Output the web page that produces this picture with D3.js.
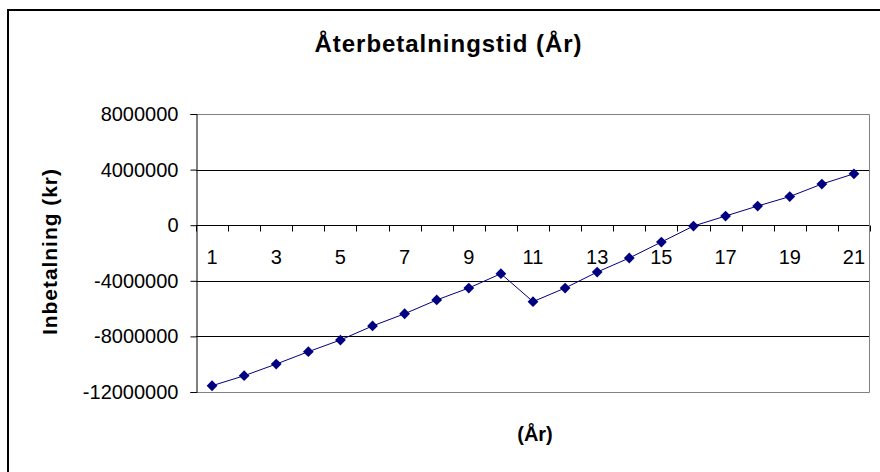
<!DOCTYPE html>
<html>
<head>
<meta charset="utf-8">
<script src="https://cdn.jsdelivr.net/npm/d3@7"></script>
<style>
body { margin: 0; background: #fff; }
svg { display: block; font-family: "Liberation Sans", Arial, sans-serif; }
</style>
</head>
<body>
<svg id="chart" width="880" height="472"></svg>
<script>
const years = [1,2,3,4,5,6,7,8,9,10,11,12,13,14,15,16,17,18,19,20,21];
const payments = [-11550000,-10830000,-9990000,-9100000,-8260000,-7250000,-6370000,-5380000,-4520000,-3490000,-5500000,-4520000,-3370000,-2360000,-1210000,-60000,660000,1380000,2060000,2960000,3700000];
const yTicks = [8000000,4000000,0,-4000000,-8000000,-12000000];
const xLabels = [1,3,5,7,9,11,13,15,17,19,21];
const title = "Återbetalningstid (År)";
const xTitle = "(År)";
const yTitle = "Inbetalning (kr)";

const svg = d3.select("#chart");
const L = 196, R = 870, T = 114, B = 392;

// outer frame
svg.append("rect").attr("x", 8).attr("y", 10).attr("width", 900).attr("height", 500)
  .attr("fill", "#fff").attr("stroke", "#000").attr("stroke-width", 2);

const x = d3.scaleBand().domain(years).range([L, R]).padding(0);
const y = d3.scaleLinear().domain([-12000000, 8000000]).range([B, T]);

// gridlines
svg.append("g").selectAll("line").data(yTicks.filter(v => v !== 8000000 && v !== -12000000))
  .join("line")
  .attr("x1", L).attr("x2", R)
  .attr("y1", d => Math.round(y(d)) + 0.5).attr("y2", d => Math.round(y(d)) + 0.5)
  .attr("stroke", "#000").attr("stroke-width", 1);

// plot border (top, right, bottom gray)
svg.append("path")
  .attr("d", `M${L},${T + 0.5}H${R - 0.5}V${B + 0.5}H${L}`)
  .attr("fill", "none").attr("stroke", "#808080").attr("stroke-width", 1);

// y axis
const yAxis = d3.axisLeft(y).tickValues(yTicks).tickSize(6).tickPadding(12)
  .tickFormat(d => String(d));
const gy = svg.append("g").attr("transform", `translate(${L + 0.5},0)`).call(yAxis);
gy.select(".domain").attr("stroke", "#000");
gy.selectAll(".tick line").attr("stroke", "#000");
gy.selectAll("text").attr("font-size", 20).attr("fill", "#000")
  .attr("font-family", "Liberation Sans, Arial, sans-serif");

// x axis on y=0 with ticks between categories
const y0 = Math.round(y(0)) + 0.5;
const boundaries = d3.range(years.length + 1).map(i => L + i * x.step());
svg.append("g").selectAll("line").data(boundaries).join("line")
  .attr("x1", d => Math.round(d) + 0.5).attr("x2", d => Math.round(d) + 0.5)
  .attr("y1", y0).attr("y2", y0 + 6).attr("stroke", "#000");
svg.append("g").selectAll("text").data(xLabels).join("text")
  .attr("x", d => x(d) + x.bandwidth() / 2)
  .attr("y", 264)
  .attr("text-anchor", "middle").attr("font-size", 20).attr("fill", "#000")
  .text(d => d);

// line
const line = d3.line().x((d, i) => x(years[i]) + x.bandwidth() / 2).y(d => y(d));
svg.append("path").datum(payments).attr("d", line)
  .attr("fill", "none").attr("stroke", "#000080").attr("stroke-width", 1);

// markers (diamonds)
svg.append("g").selectAll("path").data(payments).join("path")
  .attr("d", d3.symbol().type(d3.symbolSquare).size(58)())
  .attr("transform", (d, i) => `translate(${x(years[i]) + x.bandwidth() / 2},${y(d)}) rotate(45)`)
  .attr("fill", "#000080");

// titles
svg.append("text").attr("x", 448).attr("y", 52).attr("text-anchor", "middle")
  .attr("font-size", 24).attr("font-weight", "bold")
  .attr("textLength", 267).attr("lengthAdjust", "spacing").text(title);
svg.append("text").attr("x", 535).attr("y", 441).attr("text-anchor", "middle")
  .attr("font-size", 20).attr("font-weight", "bold").text(xTitle);
svg.append("text").attr("transform", `translate(57,252) rotate(-90)`).attr("text-anchor", "middle")
  .attr("font-size", 21).attr("font-weight", "bold")
  .attr("textLength", 166).attr("lengthAdjust", "spacing").text(yTitle);
</script>
</body>
</html>
